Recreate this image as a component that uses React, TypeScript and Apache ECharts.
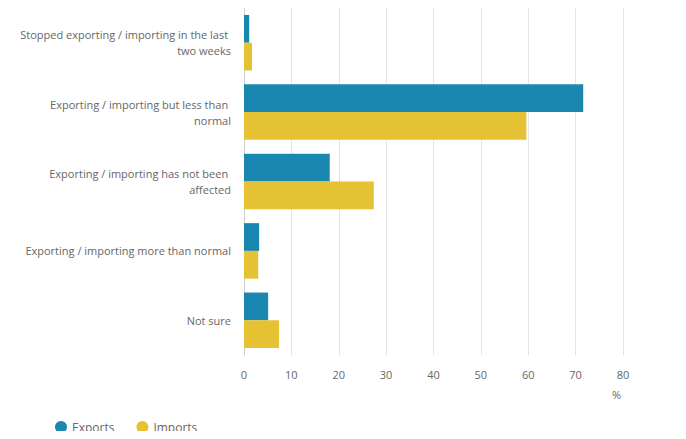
import { useRef, useEffect } from "react";
import * as echarts from "echarts";

const CATEGORIES = [
  "Stopped exporting / importing in the last two weeks",
  "Exporting / importing but less than normal",
  "Exporting / importing has not been affected",
  "Exporting / importing more than normal",
  "Not sure",
];
const EXPORTS = [1.1, 71.6, 18.1, 3.2, 5.1];
const IMPORTS = [1.7, 59.6, 27.4, 3.0, 7.4];

const FONT = "'Open Sans', sans-serif";

export default function App() {
  const chartRef = useRef<HTMLDivElement>(null);
  useEffect(() => {
    if (!chartRef.current) return;
    const chart = echarts.init(chartRef.current, undefined, { renderer: "svg" });
    chart.setOption({
      animation: false,
      textStyle: { fontFamily: FONT },
      grid: { left: 244, right: 63, top: 8, bottom: 84 },
      legend: {
        data: ["Exports", "Imports"],
        left: 50, top: 416, icon: "circle", itemWidth: 12, itemHeight: 12, itemGap: 22,
        textStyle: { color: "#666", fontSize: 12, fontFamily: FONT },
      },
      xAxis: {
        type: "value", min: 0, max: 80, interval: 10,
        axisLine: { show: false }, axisTick: { show: false },
        axisLabel: { color: "#666", fontSize: 11, margin: 14 },
        splitLine: { lineStyle: { color: "#e3e3e3" } },
      },
      yAxis: {
        type: "category", inverse: true, data: CATEGORIES,
        axisLine: { lineStyle: { color: "#ccc" } },
        axisTick: { lineStyle: { color: "#ccc" }, length: 6 },
        axisLabel: { color: "#666", fontSize: 11, width: 212, overflow: "break", lineHeight: 16, margin: 13 },
      },
      graphic: [{ type: "text", left: 612, top: 389, style: { text: "%", fill: "#666", fontSize: 11, fontFamily: FONT } }],
      series: [
        { name: "Exports", type: "bar", data: EXPORTS, itemStyle: { color: "#1a87b0" }, barGap: "0%", barCategoryGap: "20%" },
        { name: "Imports", type: "bar", data: IMPORTS, itemStyle: { color: "#e5c234" } },
      ],
    });
    return () => chart.dispose();
  }, []);
  return <div ref={chartRef} style={{ width: 686, height: 439, margin: -8 }} />;
}
